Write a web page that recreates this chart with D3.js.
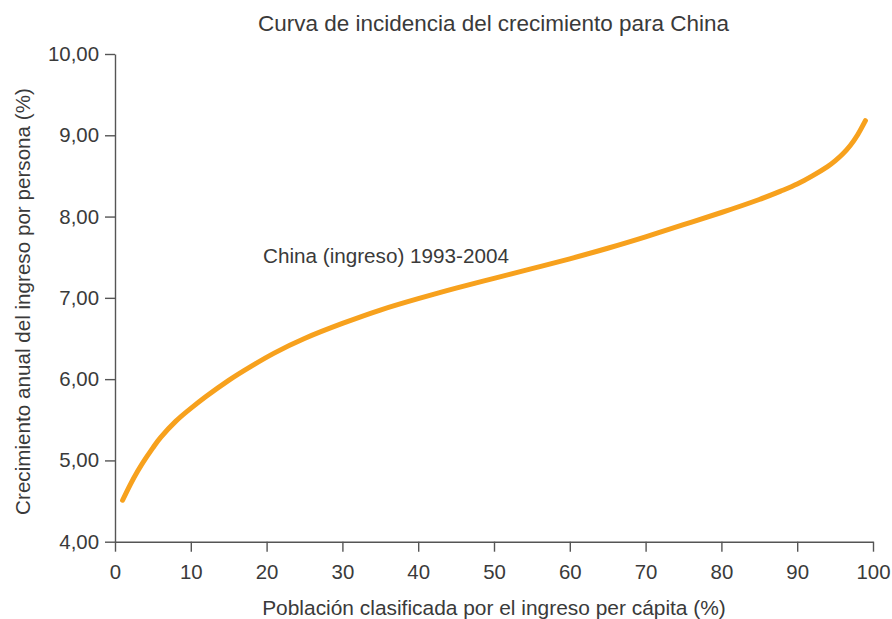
<!DOCTYPE html>
<html><head><meta charset="utf-8">
<script src="https://cdn.jsdelivr.net/npm/d3@7"></script>
<style>body{margin:0;background:#fff}svg{display:block}</style>
</head><body>
<script>
const title = "Curva de incidencia del crecimiento para China";
const xLabel = "Población clasificada por el ingreso per cápita (%)";
const yLabel = "Crecimiento anual del ingreso por persona (%)";
const seriesName = "China (ingreso) 1993-2004";
const percentiles = [1,2,3,4,5,6,8,10,12,15,18,21,25,30,35,40,45,50,55,60,65,70,75,80,85,88,90,92,94,95,96,97,98,99];
const growth = [4.51,4.70,4.87,5.02,5.155,5.28,5.48,5.64,5.785,5.985,6.16,6.32,6.50,6.685,6.85,6.99,7.12,7.24,7.36,7.48,7.61,7.75,7.90,8.05,8.21,8.32,8.40,8.50,8.615,8.685,8.77,8.875,9.01,9.18];
const xTicks = [0,10,20,30,40,50,60,70,80,90,100];
const yTicks = [4,5,6,7,8,9,10];

const W = 892, H = 619;
const font = "'Liberation Sans', Arial, sans-serif";
const textColor = "#3a3a3a";
const svg = d3.select("body").append("svg").attr("width", W).attr("height", H);

const x = d3.scaleLinear().domain([0,100]).range([115, 873]);
const y = d3.scaleLinear().domain([4,10]).range([541.7, 54]);
const fmt = d => d3.format(".2f")(d).replace(".", ",");

const xa = svg.append("g").attr("transform", `translate(0,${y(4)})`)
  .call(d3.axisBottom(x).tickValues(xTicks).tickSize(10).tickSizeOuter(0).tickPadding(13));
const ya = svg.append("g").attr("transform", `translate(${x(0)},0)`)
  .call(d3.axisLeft(y).tickValues(yTicks).tickFormat(fmt).tickSize(10).tickSizeOuter(0).tickPadding(6));
[xa, ya].forEach(g => {
  g.selectAll("path,line").attr("stroke", "#555").attr("stroke-width", 1.4);
  g.selectAll("text").attr("fill", textColor).style("font-family", font).style("font-size", "20.4px");
});

const line = d3.line().x((d,i) => x(percentiles[i])).y(d => y(d)).curve(d3.curveNatural);
svg.append("path").datum(growth).attr("d", line)
  .attr("fill", "none").attr("stroke", "#F7A11D").attr("stroke-width", 5).attr("stroke-linecap", "round");

function fit(sel, target) {
  sel.style("font-size", "20px");
  const w = sel.node().getComputedTextLength();
  sel.style("font-size", (20 * target / w).toFixed(2) + "px");
}
const t1 = svg.append("text").attr("x", 493.5).attr("y", 31).attr("text-anchor", "middle")
  .attr("fill", textColor).style("font-family", font).text(title);
fit(t1, 471);
const t2 = svg.append("text").attr("x", 494).attr("y", 615).attr("text-anchor", "middle")
  .attr("fill", textColor).style("font-family", font).text(xLabel);
fit(t2, 464);
const t3 = svg.append("text").attr("transform", `translate(30,301.5) rotate(-90)`).attr("text-anchor", "middle")
  .attr("fill", textColor).style("font-family", font).text(yLabel);
fit(t3, 427);
const t4 = svg.append("text").attr("x", 263).attr("y", 263)
  .attr("fill", textColor).style("font-family", font).text(seriesName);
fit(t4, 246);
</script>
</body></html>
